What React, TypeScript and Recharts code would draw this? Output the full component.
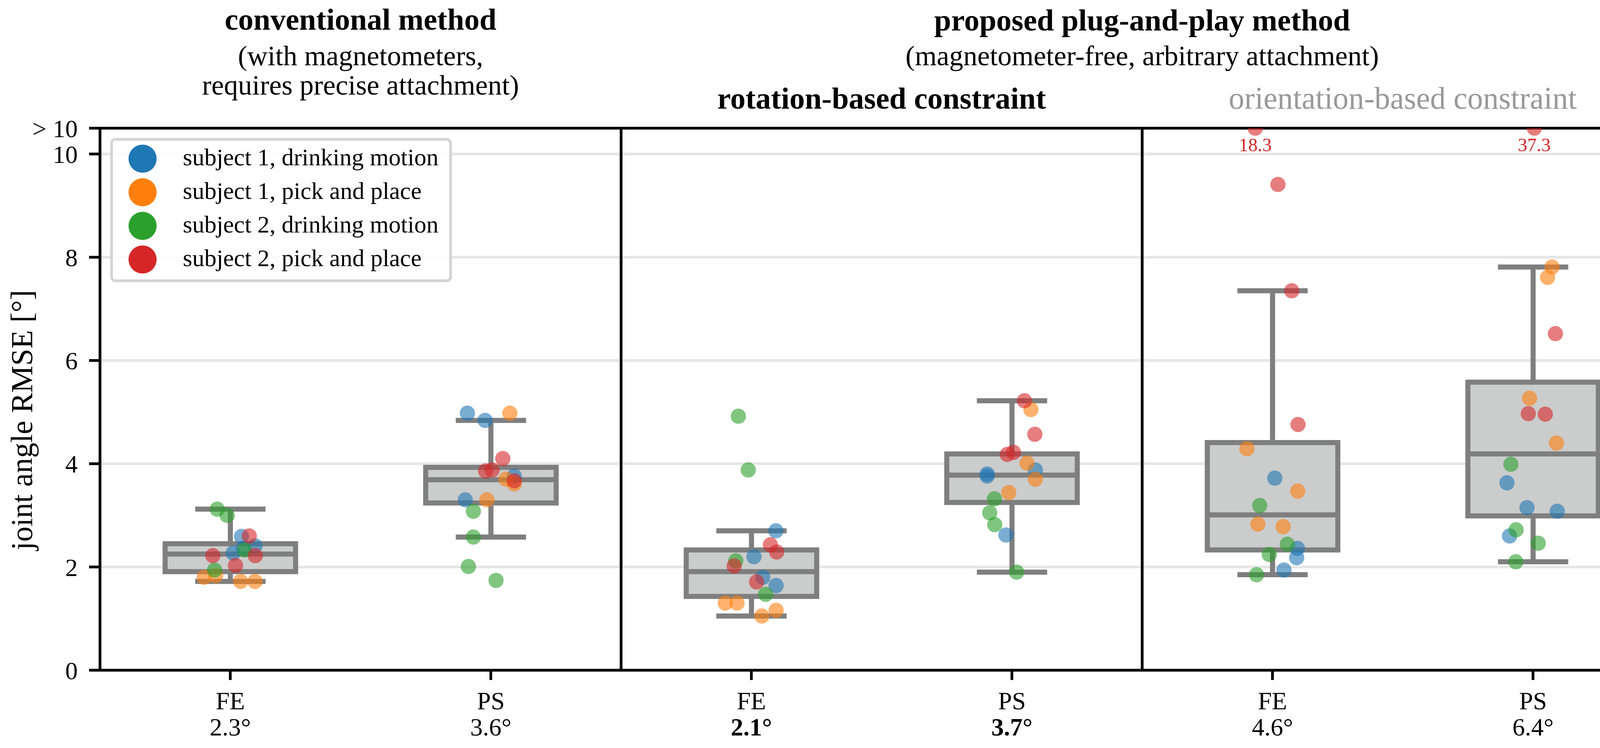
import React from 'react';
import {
  ComposedChart,
  Bar,
  Scatter,
  XAxis,
  YAxis,
  CartesianGrid,
  ReferenceLine,
  Legend,
} from 'recharts';

document.body.style.margin = '0';

const FONT = "'Liberation Serif', 'DejaVu Serif', serif";

// categories along the x axis (three panels with two joints each)
const CATEGORIES = ['FE', 'PS', 'FE', 'PS', 'FE', 'PS'];
const MEAN_LABELS = ['2.3°', '3.6°', '2.1°', '3.7°', '4.6°', '6.4°'];
const BOLD_MEANS = [false, false, true, true, false, false];

// box plot statistics
const Q1 = [1.91, 3.24, 1.43, 3.25, 2.33, 2.99];
const MEDIAN = [2.25, 3.69, 1.91, 3.78, 3.01, 4.19];
const Q3 = [2.45, 3.93, 2.33, 4.19, 4.41, 5.58];
const WHISKER_LOW = [1.72, 2.58, 1.05, 1.9, 1.85, 2.1];
const WHISKER_HIGH = [3.12, 4.84, 2.7, 5.22, 7.35, 7.81];

const GROUP_NAMES = [
  'subject 1, drinking motion',
  'subject 1, pick and place',
  'subject 2, drinking motion',
  'subject 2, pick and place',
];
const GROUP_COLORS = ['#1f77b4', '#ff7f0e', '#2ca02c', '#d62728'];

// RMSE per category, four trials each
const S1_DRINK = [[2.59, 2.41, 2.27, 2.36], [4.98, 4.84, 3.76, 3.3], [2.7, 2.2, 1.8, 1.64], [3.88, 3.8, 3.76, 2.62], [3.72, 2.36, 2.18, 1.94], [3.63, 3.15, 3.08, 2.6]];
const S1_PICK = [[1.83, 1.8, 1.72, 1.72], [4.98, 3.7, 3.61, 3.3], [1.3, 1.3, 1.16, 1.05], [5.05, 4.01, 3.7, 3.44], [4.29, 3.47, 2.83, 2.78], [7.81, 7.61, 5.27, 4.4]];
const S2_DRINK = [[3.12, 3.0, 2.33, 1.94], [3.08, 2.58, 2.01, 1.74], [4.92, 3.88, 2.12, 1.47], [3.32, 3.05, 2.82, 1.9], [3.19, 2.44, 2.24, 1.85], [3.99, 2.72, 2.46, 2.1]];
const S2_PICK = [[2.6, 2.22, 2.22, 2.03], [4.1, 3.86, 3.88, 3.67], [2.43, 2.29, 2.02, 1.71], [5.22, 4.57, 4.22, 4.18], [18.3, 9.41, 7.35, 4.76], [37.3, 6.52, 4.97, 4.96]];

// strip plot jitter (fraction of a category)
const S1_DRINK_JITTER = [[0.043, 0.095, 0.011, 0.05], [-0.09, -0.022, 0.09, -0.098], [0.094, 0.01, 0.044, 0.095], [0.09, -0.095, -0.095, -0.023], [0.009, 0.096, 0.093, 0.044], [-0.1, -0.023, 0.093, -0.09]];
const S1_PICK_JITTER = [[-0.056, -0.1, 0.04, 0.095], [0.073, 0.058, 0.09, -0.015], [-0.1, -0.055, 0.095, 0.04], [0.073, 0.058, 0.09, -0.012], [-0.098, 0.097, -0.056, 0.041], [0.073, 0.056, -0.013, 0.09]];
const S2_DRINK_JITTER = [[-0.05, -0.012, 0.055, -0.06], [-0.067, -0.067, -0.086, 0.02], [-0.05, -0.012, -0.06, 0.055], [-0.067, -0.085, -0.066, 0.018], [-0.049, 0.057, -0.012, -0.061], [-0.085, -0.065, 0.02, -0.066]];
const S2_PICK_JITTER = [[0.073, -0.067, 0.096, 0.02], [0.046, -0.02, 0.005, 0.09], [0.073, 0.097, -0.066, 0.02], [0.048, 0.088, 0.006, -0.018], [-0.066, 0.021, 0.074, 0.098], [0.005, 0.086, -0.018, 0.047]];

const Y_CAP = 10.5;
const Y_TICKS = [0, 2, 4, 6, 8, 10, 10.5];
const GRID_VALUES = [0, 2, 4, 6, 8, 10];

const GROUP_VALUES = [S1_DRINK, S1_PICK, S2_DRINK, S2_PICK];
const GROUP_JITTER = [S1_DRINK_JITTER, S1_PICK_JITTER, S2_DRINK_JITTER, S2_PICK_JITTER];

const boxData = CATEGORIES.map((c, i) => ({
  id: i,
  q1: Q1[i],
  median: MEDIAN[i],
  q3: Q3[i],
  lo: WHISKER_LOW[i],
  hi: WHISKER_HIGH[i],
}));

const pointData = GROUP_VALUES.map((group, g) =>
  group.flatMap((vals, i) =>
    vals.map((v, j) => ({
      x: i + 0.5 + GROUP_JITTER[g][i][j],
      y: Math.min(v, Y_CAP),
      raw: v,
    }))
  )
);

const BOX_STROKE = '#7f7f7f';
const BOX_FILL = '#cbcccc';

const BoxShape = (props: any) => {
  const { x, y, width, height, payload } = props;
  const k = height / (payload.q3 - payload.q1);
  const yOf = (v: number) => y + height - (v - payload.q1) * k;
  const cx = x + width / 2;
  const cap = width / 4;
  return (
    <g>
      <line x1={cx} x2={cx} y1={yOf(payload.q3)} y2={yOf(payload.hi)} stroke={BOX_STROKE} strokeWidth={13} />
      <line x1={cx} x2={cx} y1={yOf(payload.q1)} y2={yOf(payload.lo)} stroke={BOX_STROKE} strokeWidth={13} />
      <line x1={cx - cap} x2={cx + cap} y1={yOf(payload.hi)} y2={yOf(payload.hi)} stroke={BOX_STROKE} strokeWidth={13} strokeLinecap="square" />
      <line x1={cx - cap} x2={cx + cap} y1={yOf(payload.lo)} y2={yOf(payload.lo)} stroke={BOX_STROKE} strokeWidth={13} strokeLinecap="square" />
      <rect x={x} y={y} width={width} height={height} fill={BOX_FILL} stroke={BOX_STROKE} strokeWidth={13} />
      <line x1={x} x2={x + width} y1={yOf(payload.median)} y2={yOf(payload.median)} stroke={BOX_STROKE} strokeWidth={13} />
    </g>
  );
};

const makeDot = (color: string) => (props: any) => {
  const { cx, cy, payload } = props;
  return (
    <g>
      <circle cx={cx} cy={cy} r={19.5} fill={color} fillOpacity={0.6} />
      {payload.raw > Y_CAP && (
        <text x={cx} y={cy + 59} textAnchor="middle" fontSize={48} fontFamily={FONT} fill="#d62728">
          {payload.raw.toFixed(1)}
        </text>
      )}
    </g>
  );
};

const XTick = (props: any) => {
  const { x, y, payload } = props;
  const i = payload.value;
  return (
    <g>
      <text x={x} y={y + 75} textAnchor="middle" fontSize={64} fontFamily={FONT} fill="#000">
        {CATEGORIES[i]}
      </text>
      <text x={x} y={y + 142} textAnchor="middle" fontSize={64} fontFamily={FONT} fill="#000" fontWeight={BOLD_MEANS[i] ? 700 : 400}>
        {MEAN_LABELS[i]}
      </text>
    </g>
  );
};

const LegendBox = () => (
  <div
    style={{
      width: 875,
      height: 369,
      boxSizing: 'border-box',
      border: '7px solid #d4d4d4',
      borderRadius: 14,
      background: 'rgba(255,255,255,0.85)',
    }}
  >
    <svg width={861} height={355}>
      {GROUP_NAMES.map((name, g) => (
        <g key={name}>
          <circle cx={76} cy={46 + g * 86} r={36} fill={GROUP_COLORS[g]} />
          <text x={179} y={63 + g * 86} fontSize={62} fontFamily={FONT} fill="#000">
            {name}
          </text>
        </g>
      ))}
    </svg>
  </div>
);

const Titles = () => (
  <svg
    width={4290}
    height={1914}
    style={{ position: 'absolute', left: 0, top: 0, pointerEvents: 'none' }}
    fontFamily={FONT}
  >
    <text x={923} y={76} textAnchor="middle" fontSize={78} fontWeight={700}>conventional method</text>
    <text x={923} y={167} textAnchor="middle" fontSize={72}>(with magnetometers,</text>
    <text x={923} y={242} textAnchor="middle" fontSize={72}>requires precise attachment)</text>
    <text x={2924} y={78} textAnchor="middle" fontSize={78} fontWeight={700}>proposed plug-and-play method</text>
    <text x={2924} y={167} textAnchor="middle" fontSize={72}>(magnetometer-free, arbitrary attachment)</text>
    <text x={2257} y={278} textAnchor="middle" fontSize={78} fontWeight={700}>rotation-based constraint</text>
    <text x={3591} y={278} textAnchor="middle" fontSize={80} fill="#999999">orientation-based constraint</text>
    <text transform="translate(82,1075) rotate(-90)" textAnchor="middle" fontSize={78}>joint angle RMSE [°]</text>
  </svg>
);

export default function App() {
  return (
    <div style={{ position: 'relative', width: 4290, height: 1914, background: '#fff' }}>
      <ComposedChart
        width={4290}
        height={1914}
        data={boxData}
        margin={{ top: 328, right: 32, left: 56, bottom: 49 }}
        barCategoryGap="25%"
      >
        <CartesianGrid horizontal vertical={false} horizontalValues={GRID_VALUES} stroke="#e6e6e6" strokeWidth={7} />
        <XAxis
          dataKey="id"
          type="category"
          height={150}
          tick={<XTick />}
          tickSize={25}
          tickMargin={0}
          axisLine={{ stroke: '#000', strokeWidth: 7 }}
          tickLine={{ stroke: '#000', strokeWidth: 7 }}
          interval={0}
        />
        <XAxis xAxisId="jit" dataKey="x" type="number" domain={[0, 6]} hide allowDataOverflow />
        <YAxis
          width={200}
          type="number"
          domain={[0, Y_CAP]}
          ticks={Y_TICKS}
          interval={0}
          allowDataOverflow
          tickFormatter={(v: number) => (v === Y_CAP ? '> 10' : String(v))}
          tick={{ fill: '#000', fontSize: 64, fontFamily: FONT }}
          tickSize={28}
          tickMargin={29}
          axisLine={{ stroke: '#000', strokeWidth: 7 }}
          tickLine={{ stroke: '#000', strokeWidth: 7 }}
        />
        <ReferenceLine xAxisId="jit" y={Y_CAP} stroke="#000" strokeWidth={7} />
        <ReferenceLine xAxisId="jit" x={2} stroke="#000" strokeWidth={7} />
        <ReferenceLine xAxisId="jit" x={4} stroke="#000" strokeWidth={7} />
        <ReferenceLine xAxisId="jit" x={6} stroke="#000" strokeWidth={7} />
        <Bar
          dataKey={(d: any) => [d.q1, d.q3]}
          shape={BoxShape}
          legendType="none"
          isAnimationActive={false}
        />
        {GROUP_NAMES.map((name, g) => (
          <Scatter
            key={name}
            name={name}
            xAxisId="jit"
            data={pointData[g]}
            dataKey="y"
            fill={GROUP_COLORS[g]}
            shape={makeDot(GROUP_COLORS[g])}
            isAnimationActive={false}
          />
        ))}
        <Legend
          layout="vertical"
          align="center"
          verticalAlign="middle"
          wrapperStyle={{ left: 282, top: 353, width: 875, height: 369 }}
          content={<LegendBox />}
        />
      </ComposedChart>
      <Titles />
    </div>
  );
}
